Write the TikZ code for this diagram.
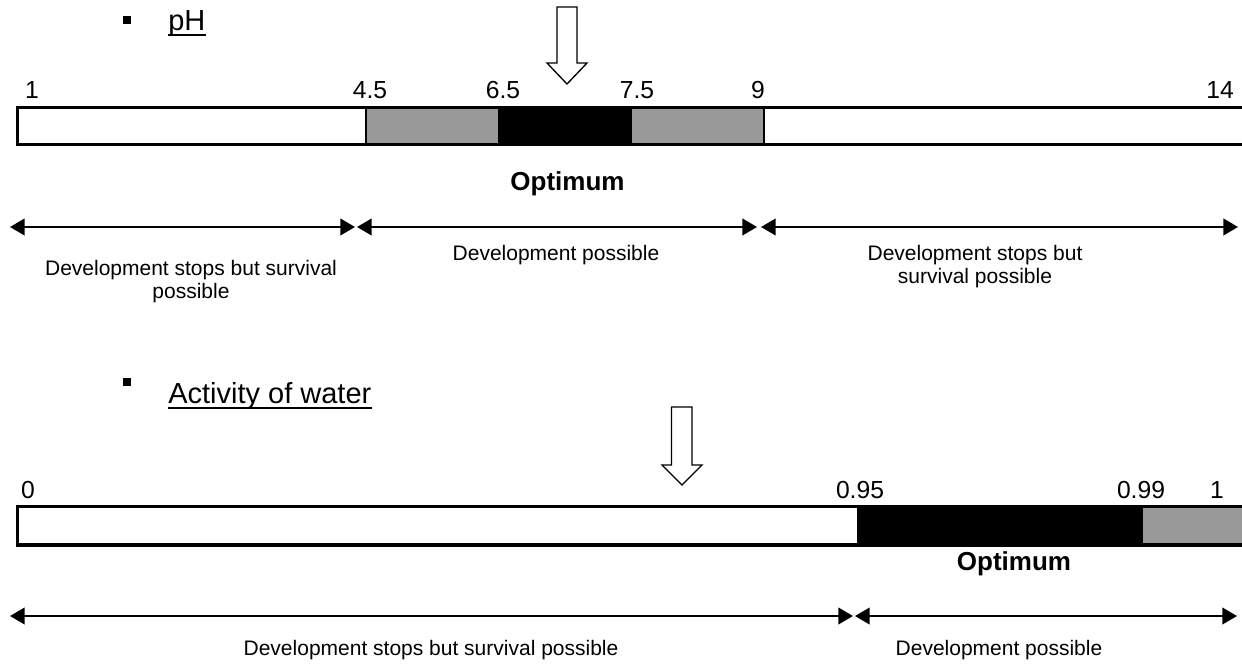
\documentclass[tikz,border=0pt]{standalone}
\usepackage{fontspec}
\setmainfont{Liberation Sans}
\usetikzlibrary{arrows.meta}
\begin{document}
\begin{tikzpicture}[x=0.75pt,y=-0.75pt,
  num/.style={font=\fontsize{18.5}{20}\selectfont, anchor=base, inner sep=0pt},
  lbl/.style={font=\fontsize{15.75}{17.25}\selectfont, anchor=base, inner sep=0pt, align=center},
  head/.style={font=\fontsize{21.75}{24}\selectfont, anchor=base west, inner sep=0pt},
  opt/.style={font=\bfseries\fontsize{19.5}{22}\selectfont, anchor=base, inner sep=0pt},
  barline/.style={line width=2.4pt},
  sepline/.style={line width=1.5pt},
  uline/.style={line width=1.5pt},
  span/.style={line width=1.5pt, {Triangle[length=11pt,width=12.5pt]}-{Triangle[length=11pt,width=12.5pt]}},
  blockarrow/.style={draw, line width=1pt, fill=white, line join=miter},
  bullet/.style={fill=black, minimum size=6pt, inner sep=0pt},
  greyfill/.style={fill=black!40},
  blackfill/.style={fill=black}
]
\useasboundingbox (0,0) rectangle (1242,664);

% ---------- pH ----------
\node[bullet] (b1) at (127,20) {};
\node[head] (h1) at (168,30) {pH};
\draw[uline] ([yshift=-3.4pt]h1.base west) -- ([yshift=-3.4pt]h1.base east);

\draw[blockarrow] (557,7) -- (577,7) -- (577,63) -- (587,63) -- (567,84) -- (547,63) -- (557,63) -- cycle;

\node[num] (n1) at (32,98) {1};
\node[num] (n45) at (370,98) {4.5};
\node[num] (n65) at (503,98) {6.5};
\node[num] (n75) at (637,98) {7.5};
\node[num] (n9) at (758,98) {9};
\node[num] (n14) at (1220,98) {14};

\fill[greyfill] (366,107.5) rectangle (498,144.3);
\fill[blackfill] (498,107.5) rectangle (632,144.3);
\fill[greyfill] (632,107.5) rectangle (764,144.3);
\draw[barline] (1250,107.5) -- (17.5,107.5) -- (17.5,144.3) -- (1250,144.3);
\draw[sepline] (366,107.5) -- (366,144.3);
\draw[sepline] (764,107.5) -- (764,144.3);

\node[opt] (o1) at (567.5,190) {Optimum};

\coordinate (a1) at (10,227);
\coordinate (a2) at (355,227);
\coordinate (a3) at (357,227);
\coordinate (a4) at (757,227);
\coordinate (a5) at (761,227);
\coordinate (a6) at (1238,227);
\draw[span] (a1) -- (a2);
\draw[span] (a3) -- (a4);
\draw[span] (a5) -- (a6);

\node[lbl] (l1) at (191,298) {Development stops but survival\\possible};
\node[lbl] (l2) at (556,260) {Development possible};
\node[lbl] (l3) at (975,283) {Development stops but\\survival possible};

% ---------- Activity of water ----------
\node[bullet] (b2) at (127,382) {};
\node[head] (h2) at (168,403) {Activity of water};
\draw[uline] ([yshift=-3.4pt]h2.base west) -- ([yshift=-3.4pt]h2.base east);

\draw[blockarrow] (671.5,407) -- (692,407) -- (692,465) -- (702,465) -- (682,485) -- (662,465) -- (671.5,465) -- cycle;

\node[num] (m0) at (28,498) {0};
\node[num] (m95) at (860,498) {0.95};
\node[num] (m99) at (1141,498) {0.99};
\node[num] (m1) at (1217,498) {1};

\fill[blackfill] (857,506.5) rectangle (1143,545);
\fill[greyfill] (1143,506.5) rectangle (1250,545);
\draw[barline] (1250,506.5) -- (17.5,506.5) -- (17.5,545) -- (1250,545);

\node[opt] (o2) at (1014,570) {Optimum};

\coordinate (c1) at (10,616);
\coordinate (c2) at (853,616);
\coordinate (c3) at (855,616);
\coordinate (c4) at (1237,616);
\draw[span] (c1) -- (c2);
\draw[span] (c3) -- (c4);

\node[lbl] (k1) at (431,655) {Development stops but survival possible};
\node[lbl] (k2) at (999,655) {Development possible};
\end{tikzpicture}
\end{document}
